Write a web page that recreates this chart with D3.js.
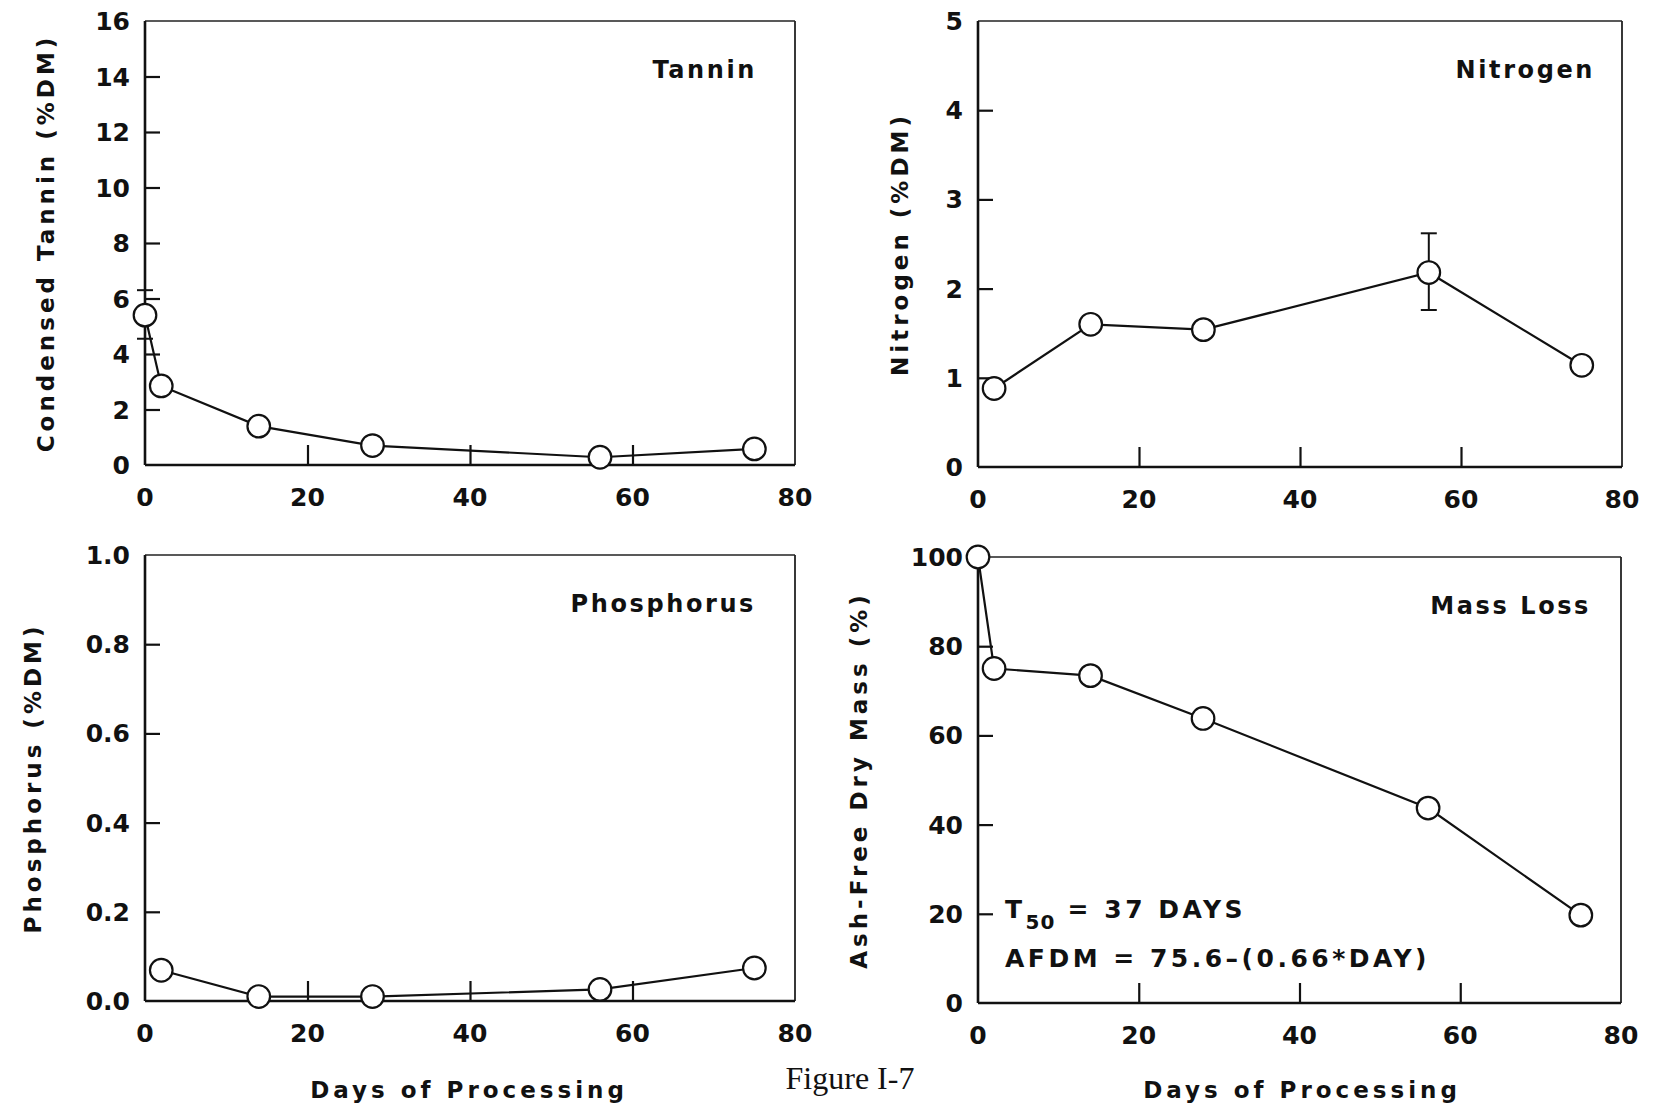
<!DOCTYPE html>
<html>
<head>
<meta charset="utf-8">
<script src="https://cdn.jsdelivr.net/npm/d3@7"></script>
<style>
  html, body { margin: 0; padding: 0; background: #fff; }
  svg { display: block; }
  .tick-lbl { font-family: "DejaVu Sans", sans-serif; font-weight: bold; font-size: 25px; fill: #111; }
  .ttl { font-family: "DejaVu Sans", sans-serif; font-weight: bold; font-size: 23px; fill: #111; letter-spacing: 4px; }
  .inner { font-family: "DejaVu Sans", sans-serif; font-weight: bold; font-size: 24px; fill: #111; letter-spacing: 2.6px; }
  .note { font-family: "DejaVu Sans", sans-serif; font-weight: bold; font-size: 25px; fill: #111; letter-spacing: 3.5px; }
</style>
</head>
<body>
<svg id="fig" width="1663" height="1116"></svg>
<script>
// ── Data (days of processing vs. measured value) ─────────────
const tanninDays = [0, 2, 14, 28, 56, 75];
const tanninVals = [5.4, 2.85, 1.4, 0.7, 0.28, 0.58];
const tanninErr  = [{ day: 0, lo: 4.55, hi: 6.3 }];

const nitroDays = [2, 14, 28, 56, 75];
const nitroVals = [0.88, 1.6, 1.54, 2.18, 1.14];
const nitroErr  = [{ day: 56, lo: 1.76, hi: 2.62 }];

const phosDays = [2, 14, 28, 56, 75];
const phosVals = [0.069, 0.01, 0.01, 0.026, 0.074];

const massDays = [0, 2, 14, 28, 56, 75];
const massVals = [100, 75, 73.4, 63.8, 43.7, 19.7];

const xTicks      = [0, 20, 40, 60, 80];
const tanninTicks = [0, 2, 4, 6, 8, 10, 12, 14, 16];
const nitroTicks  = [0, 1, 2, 3, 4, 5];
const phosTicks   = [0, 0.2, 0.4, 0.6, 0.8, 1.0];
const massTicks   = [0, 20, 40, 60, 80, 100];

const svg = d3.select('#fig');

// ── One panel ─────────────────────────────
function drawPanel(p) {
  const x = d3.scaleLinear().domain([0, 80]).range([p.left, p.right]);
  const y = d3.scaleLinear().domain(p.yDomain).range([p.bottom, p.top]);
  const g = svg.append('g');

  // frame: heavy left/bottom, lighter top/right
  g.append('line').attr('x1', p.left).attr('x2', p.right).attr('y1', p.top).attr('y2', p.top)
    .attr('stroke', '#222').attr('stroke-width', 1.6);
  g.append('line').attr('x1', p.right).attr('x2', p.right).attr('y1', p.top).attr('y2', p.bottom)
    .attr('stroke', '#222').attr('stroke-width', 1.8);
  g.append('line').attr('x1', p.left).attr('x2', p.right).attr('y1', p.bottom).attr('y2', p.bottom)
    .attr('stroke', '#111').attr('stroke-width', 2.6);
  g.append('line').attr('x1', p.left).attr('x2', p.left).attr('y1', p.top).attr('y2', p.bottom)
    .attr('stroke', '#111').attr('stroke-width', 2.6);

  // inward ticks
  const ax = d3.axisBottom(x).tickValues(xTicks).tickSize(-20).tickFormat('');
  g.append('g').attr('transform', `translate(0,${p.bottom})`).call(ax)
    .call(s => s.select('.domain').remove())
    .call(s => s.selectAll('.tick line').attr('stroke', '#111').attr('stroke-width', 2.2)
      .filter(d => d === 0 || d === 80).remove());
  const ay = d3.axisLeft(y).tickValues(p.yTicks).tickSize(-15).tickFormat('');
  g.append('g').attr('transform', `translate(${p.left},0)`).call(ay)
    .call(s => s.select('.domain').remove())
    .call(s => s.selectAll('.tick line').attr('stroke', '#111').attr('stroke-width', 2.2)
      .filter(d => d === p.yDomain[0] || d === p.yDomain[1]).remove());

  // tick labels
  g.selectAll('.xl').data(xTicks).join('text').attr('class', 'tick-lbl')
    .attr('x', d => x(d)).attr('y', p.bottom + 41).attr('text-anchor', 'middle')
    .text(d => d);
  g.selectAll('.yl').data(p.yTicks).join('text').attr('class', 'tick-lbl')
    .attr('x', p.left - 15).attr('y', d => y(d) + 9).attr('text-anchor', 'end')
    .text(p.yFmt);

  // error bars
  (p.err || []).forEach(e => {
    const cx = x(e.day);
    g.append('line').attr('x1', cx).attr('x2', cx).attr('y1', y(e.lo)).attr('y2', y(e.hi))
      .attr('stroke', '#111').attr('stroke-width', 2);
    [e.lo, e.hi].forEach(v => g.append('line')
      .attr('x1', cx - 8).attr('x2', cx + 8).attr('y1', y(v)).attr('y2', y(v))
      .attr('stroke', '#111').attr('stroke-width', 2));
  });

  // series
  const pts = p.days.map((d, i) => [d, p.vals[i]]);
  g.append('path').datum(pts)
    .attr('d', d3.line().x(d => x(d[0])).y(d => y(d[1])))
    .attr('fill', 'none').attr('stroke', '#111').attr('stroke-width', 2.2);
  g.selectAll('.pt').data(pts).join('circle')
    .attr('cx', d => x(d[0])).attr('cy', d => y(d[1])).attr('r', 11.3)
    .attr('fill', '#fff').attr('stroke', '#111').attr('stroke-width', 2.2);

  // inner label
  g.append('text').attr('class', 'inner').attr('text-anchor', 'end')
    .attr('x', p.right - p.labelDx).attr('y', p.top + 57).text(p.label);

  // y title
  g.append('text').attr('class', 'ttl').attr('text-anchor', 'middle')
    .attr('transform', `translate(${p.yTitleX},${(p.top + p.bottom) / 2}) rotate(-90)`)
    .text(p.yTitle);

  return { x, y, g };
}

drawPanel({
  left: 145, right: 795, top: 21, bottom: 465,
  yDomain: [0, 16], yTicks: tanninTicks, yFmt: d => d,
  days: tanninDays, vals: tanninVals, err: tanninErr,
  label: 'Tannin', labelDx: 38, yTitle: 'Condensed Tannin (%DM)', yTitleX: 54
});

drawPanel({
  left: 978, right: 1622, top: 21, bottom: 467,
  yDomain: [0, 5], yTicks: nitroTicks, yFmt: d => d,
  days: nitroDays, vals: nitroVals, err: nitroErr,
  label: 'Nitrogen', labelDx: 27, yTitle: 'Nitrogen (%DM)', yTitleX: 908
});

drawPanel({
  left: 145, right: 795, top: 555, bottom: 1001,
  yDomain: [0, 1], yTicks: phosTicks, yFmt: d3.format('.1f'),
  days: phosDays, vals: phosVals,
  label: 'Phosphorus', labelDx: 39, yTitle: 'Phosphorus (%DM)', yTitleX: 41
});

const mass = drawPanel({
  left: 978, right: 1621, top: 557, bottom: 1003,
  yDomain: [0, 100], yTicks: massTicks, yFmt: d => d,
  days: massDays, vals: massVals,
  label: 'Mass Loss', labelDx: 30, yTitle: 'Ash-Free Dry Mass (%)', yTitleX: 867
});

// regression note in mass-loss panel
const note = mass.g.append('text').attr('class', 'note').attr('x', 1005).attr('y', 918);
note.append('tspan').text('T');
note.append('tspan').attr('dy', 11).attr('font-size', 20).attr('letter-spacing', 1).text('50');
note.append('tspan').attr('dy', -11).text(' = 37 DAYS');
mass.g.append('text').attr('class', 'note').attr('x', 1005).attr('y', 967)
  .text('AFDM = 75.6\u2013(0.66*DAY)');

// x titles + figure caption
[[469, 'Days of Processing'], [1302, 'Days of Processing']].forEach(([cx, t]) =>
  svg.append('text').attr('class', 'ttl').attr('text-anchor', 'middle')
    .attr('x', cx).attr('y', 1098).text(t));
svg.append('text').attr('x', 850).attr('y', 1089).attr('text-anchor', 'middle')
  .attr('font-family', '"Liberation Serif", "Times New Roman", serif').attr('font-size', 32)
  .attr('fill', '#111').text('Figure I-7');
</script>
</body>
</html>
